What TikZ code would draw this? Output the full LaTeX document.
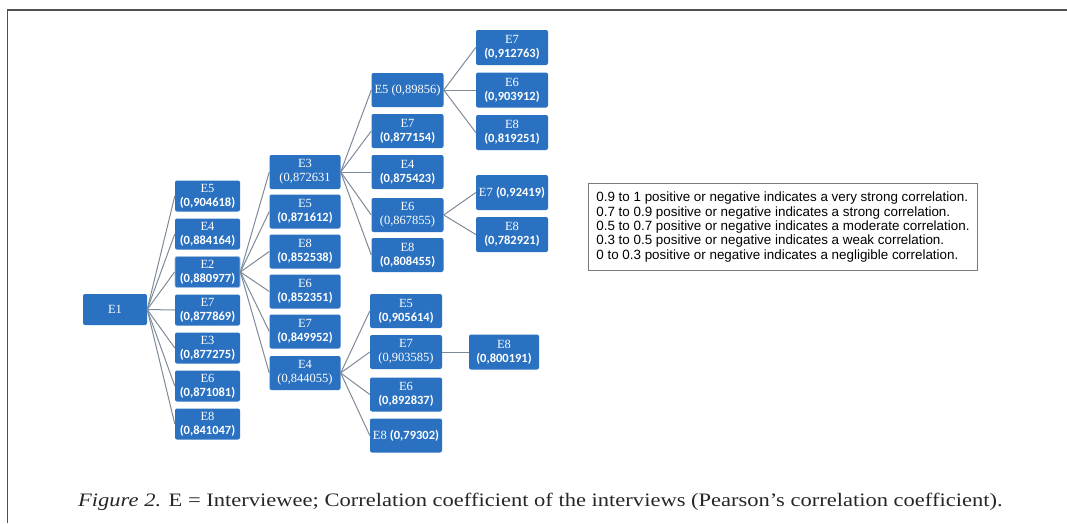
\documentclass[tikz,border=0pt]{standalone}
\usepackage{fontspec}
\setmainfont{Liberation Serif}
\newfontfamily\legendfont{Liberation Sans}
\newfontfamily\valfont{Carlito}
\newfontfamily\capfont[FakeStretch=1.185]{Liberation Serif}
\usepackage{xcolor}
\usetikzlibrary{positioning}
\definecolor{boxblue}{HTML}{2A71C1}
\definecolor{linkgray}{HTML}{7E8A97}
\definecolor{framegray}{HTML}{505050}
\definecolor{legendgray}{HTML}{7A7A7A}
\newcommand{\cv}[1]{{\valfont\bfseries #1}}
\tikzset{ebox/.style={fill=boxblue,text=white,rounded corners=2pt,align=center,inner sep=1pt,font=\fontsize{12.5}{14}\selectfont},
 colb/.style={ebox,minimum width=65pt,minimum height=31pt},
 colc/.style={ebox,minimum width=71pt,minimum height=34pt},
 cold/.style={ebox,minimum width=72pt,minimum height=34pt},
 cole/.style={ebox,minimum width=72pt,minimum height=35pt},
 link/.style={draw=linkgray,line width=1pt},
 legendbox/.style={draw=legendgray,line width=.9pt,align=left,font=\legendfont\fontsize{13.4}{14.3}\selectfont,inner xsep=5pt}}

\begin{document}
\begin{tikzpicture}[x=1pt,y=-1pt]
\useasboundingbox (0,0) rectangle (1067,523);
\draw[framegray,line width=1.6pt] (7.5,523) -- (7.5,10) -- (1067,10);
% first level
\node[ebox,minimum width=64pt,minimum height=31pt] (e1) at (115,309.5) {E1};
\node[colb] (p5) at (207.5,196) {E5\\\cv{(0,904618)}};
\node[colb] (p4) at (207.5,234) {E4\\\cv{(0,884164)}};
\node[colb,draw=boxblue!45!white,line width=.8pt] (p2) at (207.5,272) {E2\\\cv{(0,880977)}};
\node[colb] (p7) at (207.5,310) {E7\\\cv{(0,877869)}};
\node[colb] (p3) at (207.5,348) {E3\\\cv{(0,877275)}};
\node[colb] (p6) at (207.5,386) {E6\\\cv{(0,871081)}};
\node[colb] (p8) at (207.5,424) {E8\\\cv{(0,841047)}};
% under E2
\node[colc] (p23) at (305,172) {E3\\(0,872631};
\node[colc] (p25) at (305,211.5) {E5\\\cv{(0,871612)}};
\node[colc] (p28) at (305,251.5) {E8\\\cv{(0,852538)}};
\node[colc] (p26) at (305,291.5) {E6\\\cv{(0,852351)}};
\node[colc] (p27) at (305,331.5) {E7\\\cv{(0,849952)}};
\node[colc] (p24) at (305,373) {E4\\(0,844055)};
% under E3
\node[cold] (p235) at (407.5,90) {E5 (0,89856)};
\node[cold] (p237) at (407.5,131) {E7\\\cv{(0,877154)}};
\node[cold] (p234) at (407.5,172) {E4\\\cv{(0,875423)}};
\node[cold] (p236) at (407.5,215) {E6\\(0,867855)};
\node[cold] (p238) at (407.5,255) {E8\\\cv{(0,808455)}};
% under E4
\node[cold] (p245) at (406,311) {E5\\\cv{(0,905614)}};
\node[cold] (p247) at (406,352) {E7\\(0,903585)};
\node[cold] (p246) at (406,394.5) {E6\\\cv{(0,892837)}};
\node[cold] (p248) at (406,435.5) {E8 \cv{(0,79302)}};
% last level
\node[cole] (p2357) at (512,47.5) {E7\\\cv{(0,912763)}};
\node[cole] (p2356) at (512,90) {E6\\\cv{(0,903912)}};
\node[cole] (p2358) at (512,132.5) {E8\\\cv{(0,819251)}};
\node[cole] (p2367) at (512,192.5) {E7 \cv{(0,92419)}};
\node[cole] (p2368) at (512,234.5) {E8\\\cv{(0,782921)}};
\node[cole,minimum width=70pt] (p2478) at (504,352) {E8\\\cv{(0,800191)}};
% links
\foreach \t in {p5,p4,p2,p7,p3,p6,p8}{\draw[link] (e1.east) -- (\t.west);}
\foreach \t in {p23,p25,p28,p26,p27,p24}{\draw[link] (p2.east) -- (\t.west);}
\foreach \t in {p235,p237,p234,p236,p238}{\draw[link] (p23.east) -- (\t.west);}
\foreach \t in {p245,p247,p246,p248}{\draw[link] (p24.east) -- (\t.west);}
\foreach \t in {p2357,p2356,p2358}{\draw[link] (p235.east) -- (\t.west);}
\foreach \t in {p2367,p2368}{\draw[link] (p236.east) -- (\t.west);}
\draw[link] (p247.east) -- (p2478.west);
\node[legendbox,anchor=north west,minimum width=389pt,minimum height=87pt] (legend) at (588,183) {0.9 to 1 positive or negative indicates a very strong correlation.\\0.7 to 0.9 positive or negative indicates a strong correlation.\\0.5 to 0.7 positive or negative indicates a moderate correlation.\\0.3 to 0.5 positive or negative indicates a weak correlation.\\0 to 0.3 positive or negative indicates a negligible correlation.};
\node[anchor=base west,inner sep=0pt,font=\capfont\fontsize{19}{23}\selectfont,text=black!85] (caption) at (78,506) {\textit{Figure 2.} E = Interviewee; Correlation coefficient of the interviews (Pearson’s correlation coefficient).};
\end{tikzpicture}
\end{document}
